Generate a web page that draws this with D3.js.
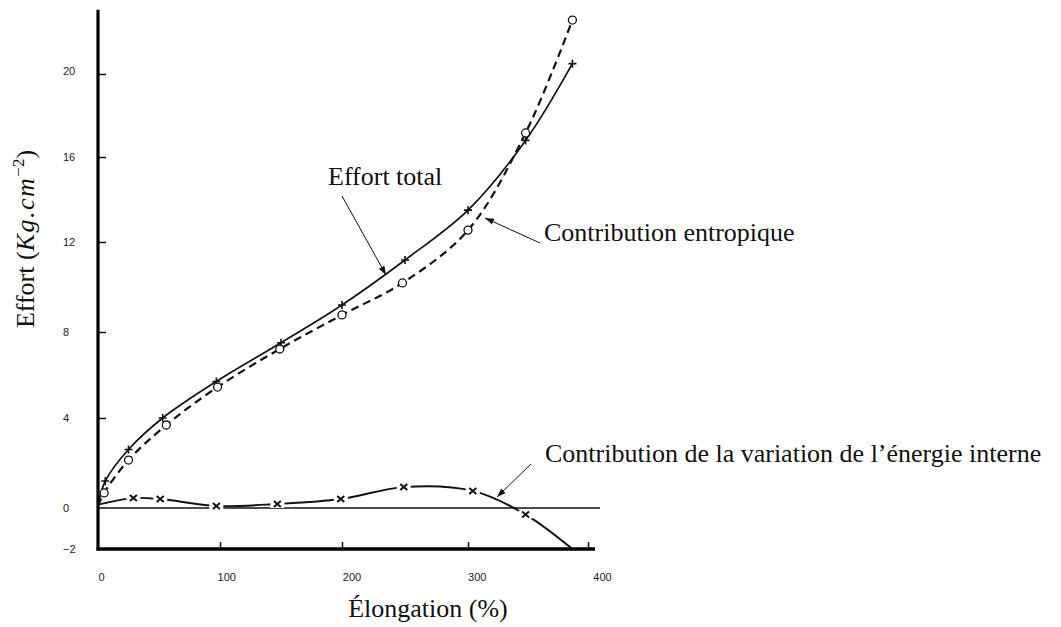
<!DOCTYPE html>
<html>
<head>
<meta charset="UTF-8">
<title>Effort - elongation</title>
<script src="https://d3js.org/d3.v7.min.js"></script>
<style>
  body { margin: 0; background: #fff; }
  svg { font-family: "Liberation Serif", "Times New Roman", serif; }
  .tick text { font-size: 11px; fill: #222; }
  .lbl { font-size: 26px; fill: #111; }
</style>
</head>
<body>
<script>
var elongTotal   = [0, 6, 25, 53, 97, 150, 200, 250, 300, 348, 387];
var effortTotal  = [0.1, 1.2, 2.6, 4.0, 5.7, 7.5, 9.2, 11.2, 13.5, 16.8, 20.5];
var elongEntrop  = [0, 5, 25, 56, 98, 149, 200, 248, 300, 348, 387];
var effortEntrop = [0.1, 0.67, 2.13, 3.69, 5.44, 7.21, 8.76, 10.18, 12.56, 17.16, 22.6];
var elongInt     = [0, 29, 51, 97, 147, 199, 249, 304, 348, 387];
var effortInt    = [0.15, 0.44, 0.4, 0.09, 0.18, 0.4, 0.93, 0.76, -0.32, -2];

var yTicks = [-2, 0, 4, 8, 12, 16, 20];
var xTicks = [0, 100, 200, 300, 400];

var W = 1061, H = 627;

// the scan is not quite linear, so use the tick positions it shows
var x = d3.scaleLinear().domain([0, 100, 200, 300, 400]).range([98, 220, 342, 468, 588]);
var y = d3.scaleLinear().domain([-2, 0, 4, 8, 12, 16, 20]).range([549, 508, 418, 332, 242, 157, 74]);
// printed numbers sit a bit right of the ticks
var xLab = d3.scaleLinear().domain([0, 400]).range([101, 602]);

var svg = d3.select("body").append("svg")
    .attr("width", W)
    .attr("height", H);

function zip(a, b) {
  return a.map(function (v, i) { return [v, b[i]]; });
}

var line = d3.line()
    .x(function (d) { return x(d[0]); })
    .y(function (d) { return y(d[1]); })
    .curve(d3.curveCatmullRom.alpha(0.5));

// zero line
svg.append("line")
    .attr("x1", x(0)).attr("x2", x(410))
    .attr("y1", y(0)).attr("y2", y(0))
    .attr("stroke", "#111").attr("stroke-width", 1.6);

// axes
var yAxis = d3.axisLeft(y)
    .tickValues(yTicks)
    .tickSize(-8)
    .tickPadding(35)
    .tickFormat(function (d) { return d < 0 ? "\u2212" + (-d) : d; });

var gy = svg.append("g")
    .attr("transform", "translate(" + x(0) + ",0)")
    .call(yAxis);
gy.select(".domain").remove();
gy.selectAll(".tick line").attr("stroke", "#111").attr("stroke-width", 1.5)
    .filter(function (d) { return d <= 0; }).remove();
gy.selectAll(".tick text").attr("text-anchor", "start");
gy.selectAll(".tick").filter(function (d) { return d === 20; })
    .select("text").attr("dy", "0.05em");

var xAxis = d3.axisBottom(x)
    .tickValues(xTicks.slice(1))
    .tickSize(-7)
    .tickFormat("");
var gx = svg.append("g")
    .attr("transform", "translate(0," + y(-2) + ")")
    .call(xAxis);
gx.select(".domain").remove();
gx.selectAll(".tick line").attr("stroke", "#111").attr("stroke-width", 1.5);

var gxl = svg.append("g")
    .attr("transform", "translate(0,573)")
    .call(d3.axisBottom(xLab).tickValues(xTicks).tickSize(0).tickPadding(0));
gxl.select(".domain").remove();

svg.append("line")
    .attr("x1", x(0)).attr("x2", x(0))
    .attr("y1", y(23.1)).attr("y2", y(-2) + 1.5)
    .attr("stroke", "#000").attr("stroke-width", 3.2);
svg.append("line")
    .attr("x1", x(0) - 1.5).attr("x2", x(405.8))
    .attr("y1", y(-2)).attr("y2", y(-2))
    .attr("stroke", "#000").attr("stroke-width", 3.4);

// curves
var total = zip(elongTotal, effortTotal);
var entrop = zip(elongEntrop, effortEntrop);
var internal = zip(elongInt, effortInt);

svg.append("path").datum(total)
    .attr("d", line).attr("fill", "none")
    .attr("stroke", "#111").attr("stroke-width", 1.7);

svg.append("path").datum(entrop)
    .attr("d", line).attr("fill", "none")
    .attr("stroke", "#111").attr("stroke-width", 2.2)
    .attr("stroke-dasharray", "8,5");

svg.append("path").datum(internal)
    .attr("d", line).attr("fill", "none")
    .attr("stroke", "#111").attr("stroke-width", 1.9);

// markers
svg.selectAll(".plus").data(total.slice(1))
  .enter().append("path")
    .attr("class", "plus")
    .attr("transform", function (d) { return "translate(" + x(d[0]) + "," + y(d[1]) + ")"; })
    .attr("d", "M-4,0H4M0,-4V4")
    .attr("stroke", "#111").attr("stroke-width", 1.6);

svg.selectAll(".circ").data(entrop.slice(1))
  .enter().append("circle")
    .attr("class", "circ")
    .attr("cx", function (d) { return x(d[0]); })
    .attr("cy", function (d) { return y(d[1]); })
    .attr("r", 4)
    .attr("fill", "#fff").attr("stroke", "#111").attr("stroke-width", 1.3);

var cross = svg.selectAll(".cross").data(internal.slice(1, -1))
  .enter().append("g")
    .attr("class", "cross")
    .attr("transform", function (d) { return "translate(" + x(d[0]) + "," + y(d[1]) + ")"; });
cross.append("rect")
    .attr("x", -7).attr("y", -4).attr("width", 14).attr("height", 8)
    .attr("fill", "#fff");
cross.append("path")
    .attr("d", "M-3.5,-3L3.5,3M-3.5,3L3.5,-3")
    .attr("stroke", "#111").attr("stroke-width", 2);

// annotations
svg.append("defs").append("marker")
    .attr("id", "arr")
    .attr("viewBox", "0 0 10 10")
    .attr("refX", 10).attr("refY", 5)
    .attr("markerWidth", 9).attr("markerHeight", 9)
    .attr("orient", "auto")
  .append("path")
    .attr("d", "M0,1.5L10,5L0,8.5Z")
    .attr("fill", "#111");

function arrow(x1, y1, x2, y2) {
  svg.append("line")
      .attr("x1", x1).attr("y1", y1).attr("x2", x2).attr("y2", y2)
      .attr("stroke", "#111").attr("stroke-width", 1)
      .attr("marker-end", "url(#arr)");
}

svg.append("text").attr("class", "lbl")
    .attr("x", 328).attr("y", 185).text("Effort total");
arrow(342, 196, 386, 275);

svg.append("text").attr("class", "lbl")
    .attr("x", 544).attr("y", 241).text("Contribution entropique");
arrow(540, 243, 485, 218);

svg.append("text").attr("class", "lbl")
    .attr("x", 545).attr("y", 462).text("Contribution de la variation de l\u2019\u00e9nergie interne");
arrow(531, 464, 497, 497);

// axis titles
svg.append("text").attr("class", "lbl")
    .attr("x", 428).attr("y", 617)
    .attr("text-anchor", "middle")
    .text("\u00c9longation (%)");

var yt = svg.append("text").attr("class", "lbl")
    .attr("transform", "translate(34,239) rotate(-90)")
    .attr("text-anchor", "middle");
yt.append("tspan").text("Effort (");
yt.append("tspan").attr("font-style", "italic").attr("letter-spacing", "1.5").text("Kg.cm");
yt.append("tspan").attr("font-size", "17px").attr("dy", "-10").text("\u22122");
yt.append("tspan").attr("dy", "10").text(")");
</script>
</body>
</html>
